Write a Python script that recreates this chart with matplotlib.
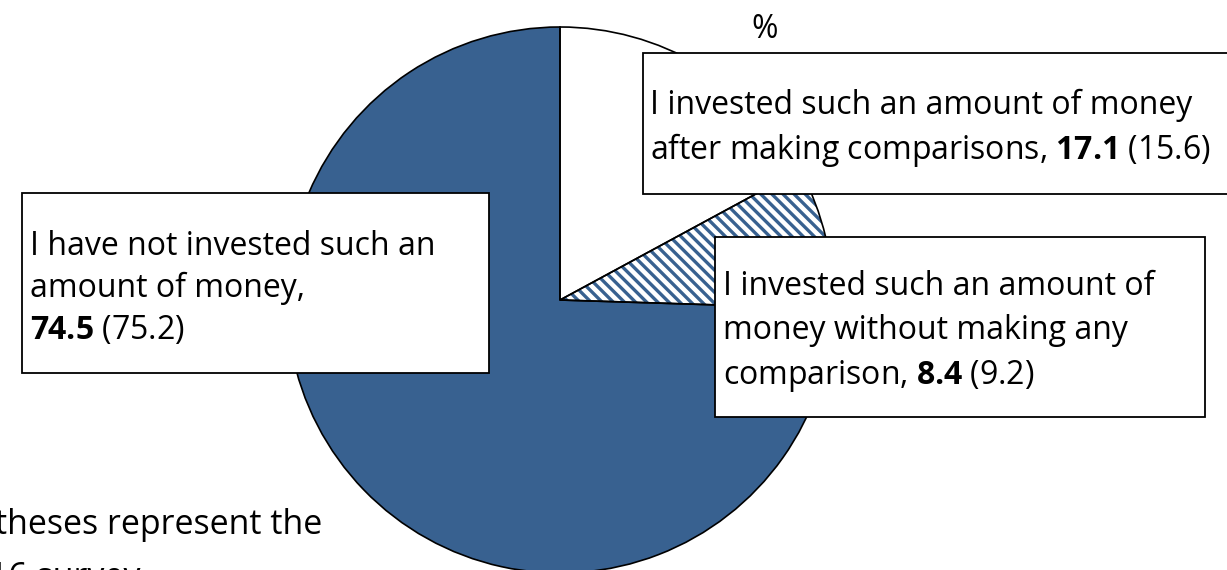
import matplotlib
matplotlib.use("Agg")
import matplotlib.pyplot as plt
from matplotlib.patches import Rectangle

plt.rcParams['font.family'] = ['Open Sans', 'DejaVu Sans']
plt.rcParams['mathtext.fontset'] = 'custom'
plt.rcParams['mathtext.rm'] = 'Open Sans'
plt.rcParams['mathtext.bf'] = 'Open Sans:bold'
plt.rcParams['hatch.linewidth'] = 2.4

# shares (%), current survey and previous survey (in parentheses)
categories = ['after comparisons', 'without comparison', 'not invested']
shares = [17.1, 8.4, 74.5]
shares_prev = [15.6, 9.2, 75.2]

blue = '#386190'

W, H = 1227, 570
fig = plt.figure(figsize=(W / 100, H / 100), dpi=100)
ax = fig.add_axes([0, 0, 1, 1])

# axis runs in pixel units with y pointing down, so the pie starts at -90
# (top of the picture) and runs counter-clockwise in data = clockwise on screen
center = (560, 300)
radius = 273
fills = ['white', 'white', blue]
wedges, _ = ax.pie(shares, colors=fills, startangle=-90, counterclock=True,
                   center=center, radius=radius,
                   wedgeprops=dict(linewidth=0))
wedges[1].set_hatch('\\\\\\')
wedges[1].set_edgecolor(blue)
# outlines on top
ax.pie(shares, colors=['none'] * 3, startangle=-90, counterclock=True,
       center=center, radius=radius,
       wedgeprops=dict(linewidth=1.2, edgecolor='black', fill=False))

ax.set_xlim(0, W)
ax.set_ylim(H, 0)
ax.set_aspect('equal')
ax.axis('off')

fs = 23
box_kw = dict(facecolor='white', edgecolor='black', linewidth=1.3, zorder=5)

# box: invested after comparisons
ax.add_patch(Rectangle((643, 53), 620, 141, **box_kw))
ax.text(650, 114, 'I invested such an amount of money', fontsize=fs,
        va='baseline', ha='left', zorder=6)
ax.text(650, 159, 'after making comparisons, $\\mathbf{%.1f}$ (%.1f)' % (shares[0], shares_prev[0]),
        fontsize=fs, va='baseline', ha='left', zorder=6)

# box: not invested
ax.add_patch(Rectangle((22, 193), 467, 180, **box_kw))
ax.text(30, 255, 'I have not invested such an', fontsize=fs,
        va='baseline', ha='left', zorder=6)
ax.text(30, 297, 'amount of money,', fontsize=fs,
        va='baseline', ha='left', zorder=6)
ax.text(30, 339, '$\\mathbf{%.1f}$ (%.1f)' % (shares[2], shares_prev[2]), fontsize=fs,
        va='baseline', ha='left', zorder=6)

# box: invested without comparison
ax.add_patch(Rectangle((715, 237), 490, 180, **box_kw))
ax.text(723, 295, 'I invested such an amount of', fontsize=fs,
        va='baseline', ha='left', zorder=6)
ax.text(723, 339, 'money without making any', fontsize=fs,
        va='baseline', ha='left', zorder=6)
ax.text(723, 384, 'comparison, $\\mathbf{%.1f}$ (%.1f)' % (shares[1], shares_prev[1]),
        fontsize=fs, va='baseline', ha='left', zorder=6)

ax.text(765, 30, '%', fontsize=fs, ha='center', va='center')

# note, partly cut off at the left and bottom edge as in the source
ax.text(322, 534, 'Note: Figures in parentheses represent the', fontsize=24.5,
        ha='right', va='baseline')
ax.text(140, 587, 'results of the 2016 survey', fontsize=24.5,
        ha='right', va='baseline')

fig.savefig('out.png', dpi=100)
